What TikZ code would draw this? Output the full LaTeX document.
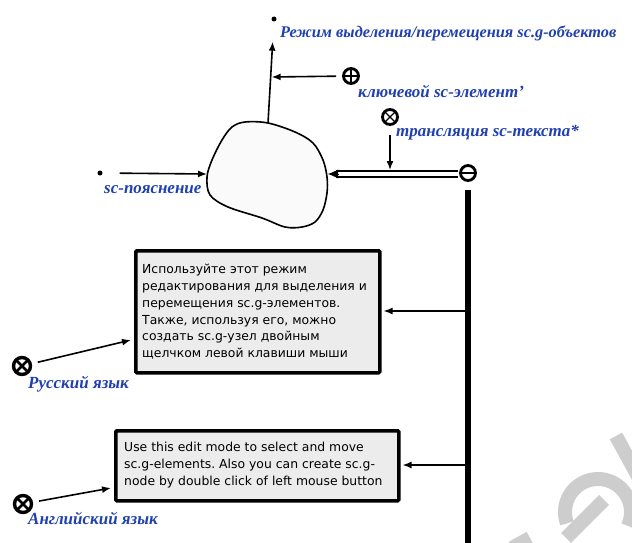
\documentclass[tikz,border=0pt]{standalone}
\usepackage{fontspec}
\setmainfont{Liberation Serif}
\newfontfamily\boxfont{DejaVu Sans}
\usetikzlibrary{arrows.meta,calc}
\definecolor{lblblue}{RGB}{32,64,176}
\definecolor{boxfill}{RGB}{236,236,236}
\definecolor{blobfill}{RGB}{250,250,250}
\definecolor{wmgray}{RGB}{205,205,205}
\begin{document}
\frenchspacing
\begin{tikzpicture}[x=1pt,y=-1pt,
 lbl/.style={font=\bfseries\itshape\fontsize{17}{19}\selectfont, text=lblblue, inner sep=0pt, anchor=base west},
 conn/.style={line width=1.6pt, -{Latex[length=9pt,width=7pt]}},
 dotnode/.style={circle, fill=black, inner sep=0pt, minimum size=5pt},
 ring/.style={circle, draw=black, line width=2.8pt, inner sep=0pt, minimum size=15pt, fill=white},
 plusring/.style={ring, path picture={\draw[line width=1.3pt] (path picture bounding box.north) -- (path picture bounding box.south) (path picture bounding box.west) -- (path picture bounding box.east);}},
 crossring/.style={ring, path picture={\draw[line width=1.3pt] (path picture bounding box.north west) -- (path picture bounding box.south east) (path picture bounding box.south west) -- (path picture bounding box.north east);}},
 boldcross/.style={ring, line width=3.4pt, minimum size=17pt, path picture={\draw[line width=2.6pt] (path picture bounding box.north west) -- (path picture bounding box.south east) (path picture bounding box.south west) -- (path picture bounding box.north east);}},
 minusring/.style={ring, path picture={\draw[line width=2pt] (path picture bounding box.west) -- (path picture bounding box.east);}},
 msgbox/.style={draw=black, line width=3.5pt, fill=boxfill, rounded corners=1pt, anchor=north west, inner sep=0pt},
 msgtext/.style={anchor=north west, align=left, inner sep=0pt, font=\boxfont\fontsize{12.4}{16.8}\selectfont},
]
\useasboundingbox (0,0) rectangle (632,543);

% watermark fragments
\begin{scope}[wmgray, line width=14pt]
 \draw (616,436) -- (640,480);
 \draw (598,512) ++(160:33) arc (160:385:33);
 \draw (566,538) -- (604,500);
 \draw (512,548) -- (530,538);
\end{scope}

% blob (sc-node)
\draw[line width=1.6pt, fill=blobfill] plot[smooth cycle, tension=0.55] coordinates {
 (245,122) (268,123) (295,132) (313,143) (323,160) (327,177) (327,193) (323,210)
 (315,222) (302,227) (285,227) (262,218) (228,207) (210,195) (207,177) (212,160)
 (222,140) (232,127)};
\coordinate (blobtop) at (268,123);
\coordinate (blobleft) at (207,174);
\coordinate (blobright) at (328,174);

% top: mode
\node[dotnode] (modedot) at (274,19) {};
\node[lbl, font=\bfseries\itshape\fontsize{16.3}{19}\selectfont] (modelbl) at (280,38) {Режим выделения/перемещения sc.g-объектов};
\draw[conn, shorten >=20pt] (blobtop) -- (modedot);

% key element
\node[plusring] (plus) at (351,76) {};
\node[lbl] (keylbl) at (358,97) {ключевой sc-элемент'};
\coordinate (keyhit) at (271.6,77);
\draw[conn, shorten <=6pt] (plus) -- (keyhit);

% translation
\node[crossring] (transl) at (390,117) {};
\node[lbl] (transllbl) at (396,136) {трансляция sc-текста*};
\coordinate (translhit) at (390,170);
\draw[conn, shorten <=9pt] (transl) -- (translhit);

% left: explanation
\node[dotnode] (expldot) at (100,173) {};
\node[lbl] (expllbl) at (104,193) {sc-пояснение};
\draw[conn, shorten <=17pt] (expldot) -- (blobleft);

% minus + double line
\node[minusring] (minus) at (468,173) {};
\coordinate (dblstart) at (458,174);
\draw[line width=1.3pt, double=white, double distance=4.5pt, shorten >=8pt] (dblstart) -- (blobright);
\coordinate (arrbase) at (338,174);
\draw[line width=0pt, -{Latex[length=10pt,width=9pt]}] (arrbase) -- (blobright);

% vertical thick line
\coordinate (vbottom) at (468,548);
\draw[line width=6pt, shorten <=8pt] (minus) -- (vbottom);
\coordinate (ruhit) at (468,311);
\coordinate (enhit) at (468,465);

% Russian box
\node[msgbox, minimum width=244pt, minimum height=122pt] (rubox) at (134,249) {};
\node[msgtext] (rutext) at (142,264)
 {Используйте этот режим\\редактирования для выделения и\\перемещения sc.g-элементов.\\Также, используя его, можно\\создать sc.g-узел двойным\\щелчком левой клавиши мыши};
\draw[conn, shorten >=2pt] (ruhit) -- (ruhit -| rubox.east);

\node[boldcross] (ruring) at (22,366) {};
\node[lbl] (rulbl) at (28,388) {Русский язык};
\coordinate (ruin) at (131,340);
\draw[conn, shorten <=6pt] (ruring) -- (ruin);

% English box
\node[msgbox, minimum width=283pt, minimum height=70pt] (enbox) at (114,429) {};
\node[msgtext] (entext) at (124,442)
 {Use this edit mode to select and move\\sc.g-elements. Also you can create sc.g-\\node by double click of left mouse button};
\draw[conn, shorten >=2pt] (enhit) -- (enhit -| enbox.east);

\node[boldcross] (enring) at (23,504) {};
\node[lbl] (enlbl) at (28,524) {Английский язык};
\coordinate (enin) at (111,488);
\draw[conn, shorten <=6pt] (enring) -- (enin);
\end{tikzpicture}
\end{document}
